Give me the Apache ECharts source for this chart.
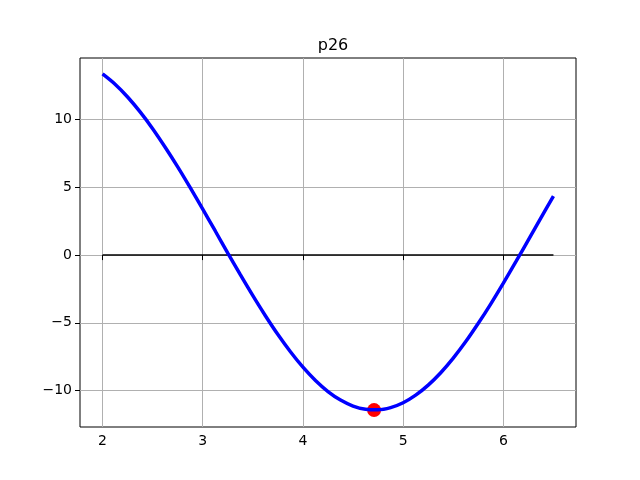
<!DOCTYPE html>
<html>
<head>
<meta charset="utf-8">
<script src="https://cdn.jsdelivr.net/npm/echarts@6/dist/echarts.min.js"></script>
<style>
html, body { margin: 0; padding: 0; background: #fff; }
#chart { width: 640px; height: 480px; }
</style>
</head>
<body>
<div id="chart"></div>
<script>
// values
const xs = [2.0, 2.125, 2.25, 2.375, 2.5, 2.625, 2.75, 2.875, 3.0, 3.125, 3.25, 3.375, 3.5, 3.625, 3.75, 3.875,
  4.0, 4.125, 4.25, 4.375, 4.5, 4.625, 4.75, 4.875, 5.0, 5.125, 5.25, 5.375, 5.5, 5.625, 5.75, 5.875,
  6.0, 6.125, 6.25, 6.375, 6.5]
const ys = [13.38, 12.62, 11.68, 10.58, 9.34, 7.97, 6.52, 4.98, 3.39, 1.78, 0.15, -1.45, -3.0, -4.48, -5.87, -7.14,
  -8.28, -9.26, -10.08, -10.71, -11.15, -11.39, -11.43, -11.27, -10.91, -10.35, -9.61, -8.69, -7.61, -6.39, -5.04, -3.6,
  -2.07, -0.49, 1.13, 2.75, 4.36]
const zeroLineX = [2.0, 6.5]
const zeroLineY = [0, 0]
const minPoint = [4.71, -11.45]

const chart = echarts.init(document.getElementById('chart'))
const font = 'DejaVu Sans'
const minus = v => String(v).replace('-', '\u2212')

const option = {
  animation: false,
  title: {
    text: 'p26',
    left: 328,
    textAlign: 'center',
    top: 33,
    textStyle: { fontFamily: font, fontSize: 16, fontWeight: 'normal', color: '#000' }
  },
  grid: {
    left: 80, right: 64, top: 58, bottom: 53,
    show: true, borderColor: '#000', borderWidth: 1, backgroundColor: 'transparent'
  },
  xAxis: {
    type: 'value',
    min: 1.775,
    max: 6.725,
    axisLine: { show: false },
    axisTick: { show: true, length: 5, lineStyle: { color: '#000' } },
    axisLabel: { fontFamily: font, fontSize: 14, color: '#000', margin: 7, showMinLabel: false, showMaxLabel: false, formatter: minus },
    splitLine: { show: true, showMinLine: false, showMaxLine: false, lineStyle: { color: '#b0b0b0', width: 1 } }
  },
  yAxis: {
    type: 'value',
    min: -12.7,
    max: 14.56,
    axisLine: { show: false },
    axisTick: { show: true, length: 5, lineStyle: { color: '#000' } },
    axisLabel: { fontFamily: font, fontSize: 14, color: '#000', margin: 8, showMinLabel: false, showMaxLabel: false, formatter: minus },
    splitLine: { show: true, showMinLine: false, showMaxLine: false, lineStyle: { color: '#b0b0b0', width: 1 } }
  },
  series: [
    {
      type: 'line',
      data: zeroLineX.map((x, i) => [x, zeroLineY[i]]),
      showSymbol: false,
      lineStyle: { color: '#000', width: 1.5 }
    },
    {
      type: 'line',
      data: xs.map((x, i) => [x, ys[i]]),
      smooth: 0.3,
      showSymbol: false,
      lineStyle: { color: '#0000ff', width: 3.5 }
    },
    {
      type: 'scatter',
      data: [minPoint],
      symbolSize: 14,
      itemStyle: { color: '#ff0000', opacity: 1 }
    }
  ]
}
chart.setOption(option)
</script>
</body>
</html>
